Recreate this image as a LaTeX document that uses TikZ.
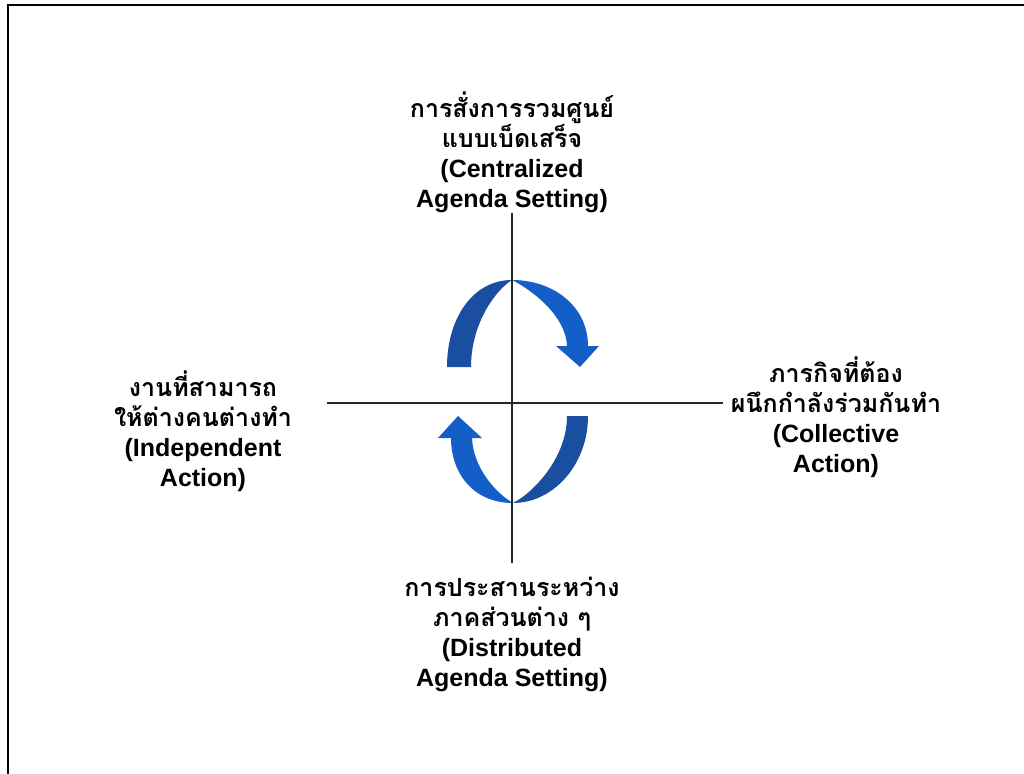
\documentclass[tikz,border=0pt]{standalone}
\usepackage{fontspec}
\setmainfont{Liberation Sans}
\newfontfamily\thaifont[Script=Thai]{Loma}
\begin{document}
\begin{tikzpicture}[x=0.75pt,y=-0.75pt,
  lbl/.style={align=center,font=\fontsize{18.75}{22.5}\selectfont\bfseries,inner sep=0pt},
  axis/.style={draw=black!85,line width=0.8pt},
  frame/.style={draw=black,line width=1.5pt},
  darkband/.style={fill={rgb,255:red,26;green,78;blue,160}},
  lightband/.style={fill={rgb,255:red,20;green,94;blue,200}}]
\useasboundingbox (0,0) rectangle (1024,774);
\fill[white] (0,0) rectangle (1024,774);
% frame (top and left edges)
\coordinate (fbl) at (7.7,776);
\coordinate (ftl) at (7.7,5.2);
\coordinate (ftr) at (1026,5.2);
\draw[frame] (fbl) -- (ftl) -- (ftr);
% upper arrow
\fill[darkband] (447,367) .. controls (447,318) and (473,280) .. (512,280)
  .. controls (497,289) and (471,322) .. (471,367) -- cycle;
\fill[lightband] (512,280) .. controls (553,280) and (588,306) .. (588,346)
  -- (599,346) -- (580,367) -- (556,346) -- (567,346)
  .. controls (566,316) and (532,290) .. (512,280) -- cycle;
% lower arrow
\fill[darkband] (588,416) .. controls (588,465) and (553,503) .. (513,503)
  .. controls (533,493) and (567,458) .. (567,416) -- cycle;
\fill[lightband] (513,503) .. controls (474,503) and (451,474) .. (451,438)
  -- (438,438) -- (458,416) -- (482,438) -- (472,438)
  .. controls (473,466) and (494,492) .. (513,503) -- cycle;
% axes
\coordinate (vt) at (512,213);
\coordinate (vb) at (512,563);
\coordinate (hl) at (327,403);
\coordinate (hr) at (723,403);
\draw[axis] (vt) -- (vb);
\draw[axis] (hl) -- (hr);
% labels
\node[lbl] (top) at (512,152) {{\thaifont การสั่งการรวมศูนย์}\\{\thaifont แบบเบ็ดเสร็จ}\\(Centralized\\Agenda Setting)};
\node[lbl] (left) at (203,431) {{\thaifont งานที่สามารถ}\\{\thaifont ให้ต่างคนต่างทำ}\\(Independent\\Action)};
\node[lbl] (right) at (836,417) {{\thaifont ภารกิจที่ต้อง}\\{\thaifont ผนึกกำลังร่วมกันทำ}\\(Collective\\Action)};
\node[lbl] (bottom) at (512,634) {{\thaifont การประสานระหว่าง}\\{\thaifont ภาคส่วนต่าง ๆ}\\(Distributed\\Agenda Setting)};
\end{tikzpicture}
\end{document}
